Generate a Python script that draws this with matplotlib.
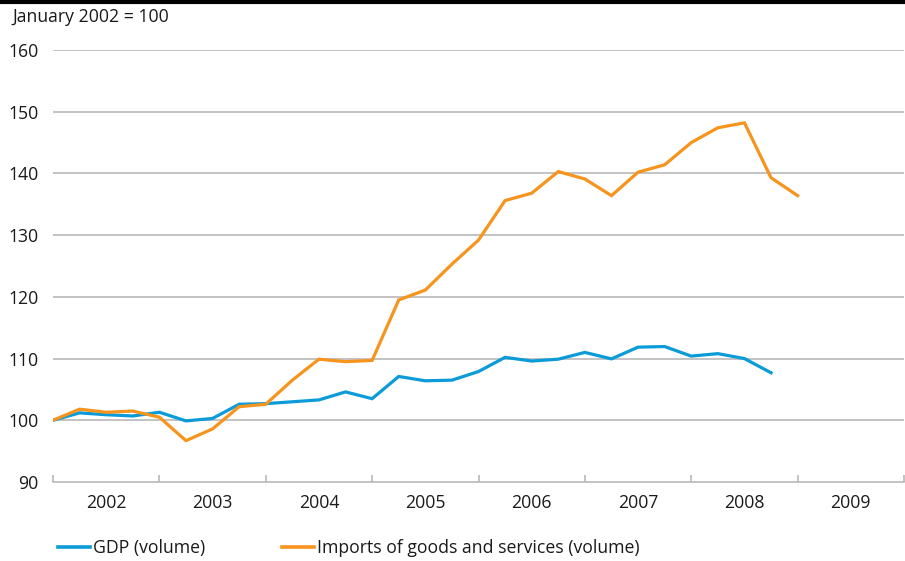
import matplotlib
matplotlib.use("Agg")
import matplotlib.pyplot as plt
from matplotlib.lines import Line2D
import numpy as np

plt.rcParams["font.family"] = ["Open Sans", "DejaVu Sans"]

# quarterly observations, starting at January 2002
gdp = [100.0, 101.2, 100.9, 100.7, 101.3, 99.9, 100.3, 102.6,
       102.7, 103.0, 103.3, 104.6, 103.5, 107.1, 106.4, 106.5,
       107.9, 110.2, 109.6, 109.9, 111.0, 109.95, 111.85, 111.95,
       110.4, 110.8, 110.0, 107.7]
imports = [100.0, 101.8, 101.3, 101.5, 100.5, 96.7, 98.6, 102.2,
           102.6, 106.5, 109.9, 109.5, 109.7, 119.5, 121.1, 125.3,
           129.2, 135.6, 136.8, 140.3, 139.1, 136.4, 140.2, 141.4,
           145.0, 147.4, 148.2, 139.3, 136.4]
years = [2002, 2003, 2004, 2005, 2006, 2007, 2008, 2009]
yticks = [90, 100, 110, 120, 130, 140, 150, 160]

blue = "#0A9BD8"
orange = "#F7941D"
grid = "#b3b3b3"
txt = "#1a1a1a"
fs = 12.7

x_gdp = 2002 + np.arange(len(gdp)) / 4
x_imp = 2002 + np.arange(len(imports)) / 4

fig = plt.figure(figsize=(9.05, 5.61), dpi=100)
ax = fig.add_axes([53 / 905, 1 - 482 / 561, 851 / 905, (482 - 50) / 561])

for v in yticks[1:]:
    ax.axhline(v, color=grid, lw=1.1, zorder=1)

ax.plot(x_gdp, gdp, color=blue, lw=2.3, zorder=3, solid_joinstyle="miter")
ax.plot(x_imp, imports, color=orange, lw=2.3, zorder=3, solid_joinstyle="miter")

ax.set_xlim(2002, 2010)
ax.set_ylim(90, 160)
ax.set_yticks(yticks)
ax.set_yticklabels([str(v) for v in yticks], fontsize=fs, color=txt)
ax.tick_params(axis="y", length=0, pad=10.5)

ax.set_xticks(list(range(2002, 2011)))
ax.set_xticklabels([])
ax.set_xticks([y + 0.5 for y in years], minor=True)
ax.set_xticklabels([str(y) for y in years], minor=True, fontsize=fs, color=txt)
ax.tick_params(axis="x", which="major", direction="in", length=5, color=grid, width=1.1)
ax.tick_params(axis="x", which="minor", length=0, pad=8.5)

for s in ["top", "left", "right"]:
    ax.spines[s].set_visible(False)
ax.spines["bottom"].set_color(grid)
ax.spines["bottom"].set_linewidth(1.1)

fig.text(12 / 905, 1 - 17 / 561, "January 2002 = 100", fontsize=fs, color=txt,
         va="center", ha="left")
fig.add_artist(Line2D([0, 1], [1 - 1.5 / 561, 1 - 1.5 / 561], color="black", lw=3,
                      transform=fig.transFigure))

handles = [Line2D([], [], color=blue, lw=2.6), Line2D([], [], color=orange, lw=2.6)]
fig.legend(handles, ["GDP (volume)", "Imports of goods and services (volume)"],
           loc="center left", bbox_to_anchor=(58 / 905, 1 - 548 / 561), ncol=2,
           frameon=False, fontsize=fs, handlelength=1.8, handletextpad=0.17,
           columnspacing=4.4, labelcolor=txt, borderpad=0, borderaxespad=0)

fig.savefig("out.png", dpi=100)
